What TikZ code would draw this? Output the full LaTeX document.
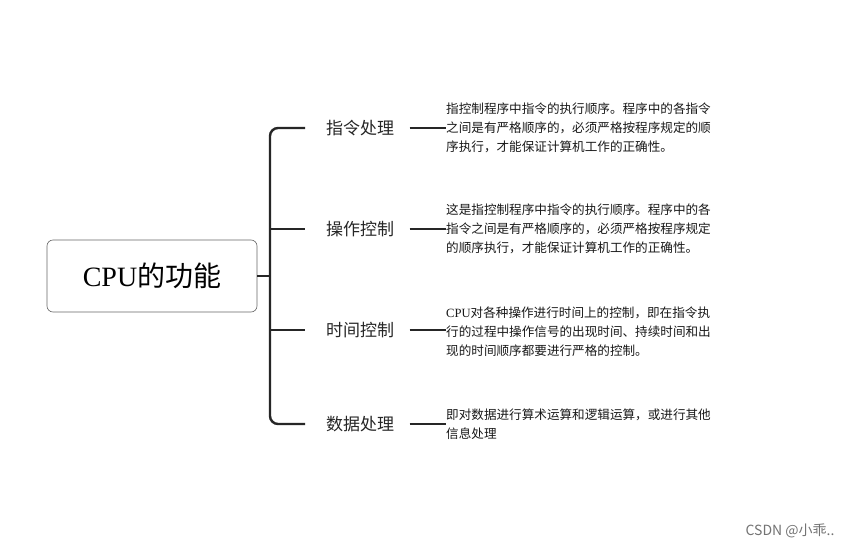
\documentclass[tikz,border=0pt]{standalone}
\usepackage{fontspec}
\newfontfamily\cjk{Noto Sans CJK SC}
\newfontfamily\serifcjk{Liberation Serif}
\begin{document}
\begin{tikzpicture}[x=1pt,y=-1pt,
  br/.style={line width=2.4pt,draw=black!85,rounded corners=8pt},
  lbl/.style={font=\cjk\fontsize{17}{20}\selectfont,text=black!85},
  desc/.style={font=\cjk\fontsize{12.6}{19}\selectfont,align=left,anchor=west,text=black!90,inner sep=0pt}]
\useasboundingbox[fill=white] (0,0) rectangle (866,551);
\node[draw=black!60,rounded corners=6pt,minimum width=210pt,minimum height=72pt,line width=0.6pt,
  font=\fontsize{28}{30}\selectfont] (root) at (152,276) {\serifcjk CPU{\cjk 的功能}};
\coordinate (j) at (270,276);
\node[lbl] (b1) at (360,128) {指令处理};
\node[lbl] (b2) at (360,229) {操作控制};
\node[lbl] (b3) at (360,330) {时间控制};
\node[lbl] (b4) at (360,424) {数据处理};
\draw[br,rounded corners=0] (root.east) -- (j);
\draw[br] (305,128) -- (j|-b1) -- (j|-b4) -- (305,424);
\draw[br,rounded corners=0] (j|-b2) -- (305,229);
\draw[br,rounded corners=0] (j|-b3) -- (305,330);
\node[desc] (d1) at (446,128) {指控制程序中指令的执行顺序。程序中的各指令\\之间是有严格顺序的，必须严格按程序规定的顺\\序执行，才能保证计算机工作的正确性。};
\node[desc] (d2) at (446,229) {这是指控制程序中指令的执行顺序。程序中的各\\指令之间是有严格顺序的，必须严格按程序规定\\的顺序执行，才能保证计算机工作的正确性。};
\node[desc] (d3) at (446,332) {{\serifcjk CPU}对各种操作进行时间上的控制，即在指令执\\行的过程中操作信号的出现时间、持续时间和出\\现的时间顺序都要进行严格的控制。};
\node[desc] (d4) at (446,424) {即对数据进行算术运算和逻辑运算，或进行其他\\信息处理};
\foreach \i in {1,2,3,4} \draw[br,rounded corners=0] (b\i.east) ++(12,0) coordinate (s\i) -- (s\i-|d\i.west) ++(-6,0);
\node[font=\cjk\fontsize{14}{16}\selectfont,text=black!55] (wm) at (790,531) {CSDN @小乖..};
\end{tikzpicture}
\end{document}
